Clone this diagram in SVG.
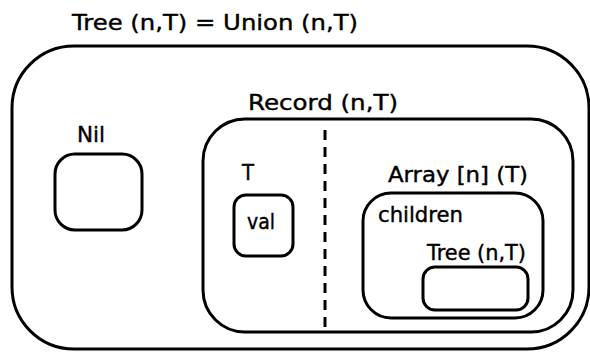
<svg xmlns="http://www.w3.org/2000/svg" width="590" height="352" viewBox="0 0 590 352">
<style>
.box{fill:none;stroke:#000;stroke-width:3}
.lbl{font-family:"DejaVu Sans","Liberation Sans",Arial,sans-serif;font-size:21px;fill:#000;stroke:#000;stroke-width:0.4}
.div{stroke:#000;stroke-width:3;stroke-dasharray:10 7;fill:none}
</style>
<rect width="590" height="352" fill="#fff"/>
<g id="tree-union">
<text class="lbl" x="72" y="30" font-size="22" textLength="286" lengthAdjust="spacingAndGlyphs">Tree (n,T) = Union (n,T)</text>
<rect class="box" x="12" y="46" width="577" height="303" rx="62" ry="62"/>
</g>
<g id="nil">
<text class="lbl" x="77" y="142" textLength="28" lengthAdjust="spacingAndGlyphs">Nil</text>
<rect class="box" x="55" y="154" width="87" height="76" rx="20" ry="20"/>
</g>
<g id="record">
<text class="lbl" x="248" y="110" textLength="150" lengthAdjust="spacingAndGlyphs">Record (n,T)</text>
<rect class="box" x="203" y="119" width="370" height="213" rx="42" ry="42"/>
</g>
<g id="divider">
<line class="div" x1="325" y1="130" x2="325" y2="332"/>
</g>
<g id="val">
<text class="lbl" x="242" y="180" textLength="12" lengthAdjust="spacingAndGlyphs">T</text>
<rect class="box" x="234" y="195" width="59" height="61" rx="12" ry="12"/>
<text class="lbl" x="247" y="229" textLength="28" lengthAdjust="spacingAndGlyphs">val</text>
</g>
<g id="children">
<text class="lbl" x="388" y="182" textLength="140" lengthAdjust="spacingAndGlyphs">Array  [n] (T)</text>
<rect class="box" x="363" y="193" width="180" height="125" rx="28" ry="28"/>
<text class="lbl" x="378" y="222" textLength="85" lengthAdjust="spacingAndGlyphs">children</text>
</g>
<g id="subtree">
<text class="lbl" x="427" y="260" textLength="99" lengthAdjust="spacingAndGlyphs">Tree (n,T)</text>
<rect class="box" x="423" y="267" width="105" height="43" rx="12" ry="12"/>
</g>
</svg>
